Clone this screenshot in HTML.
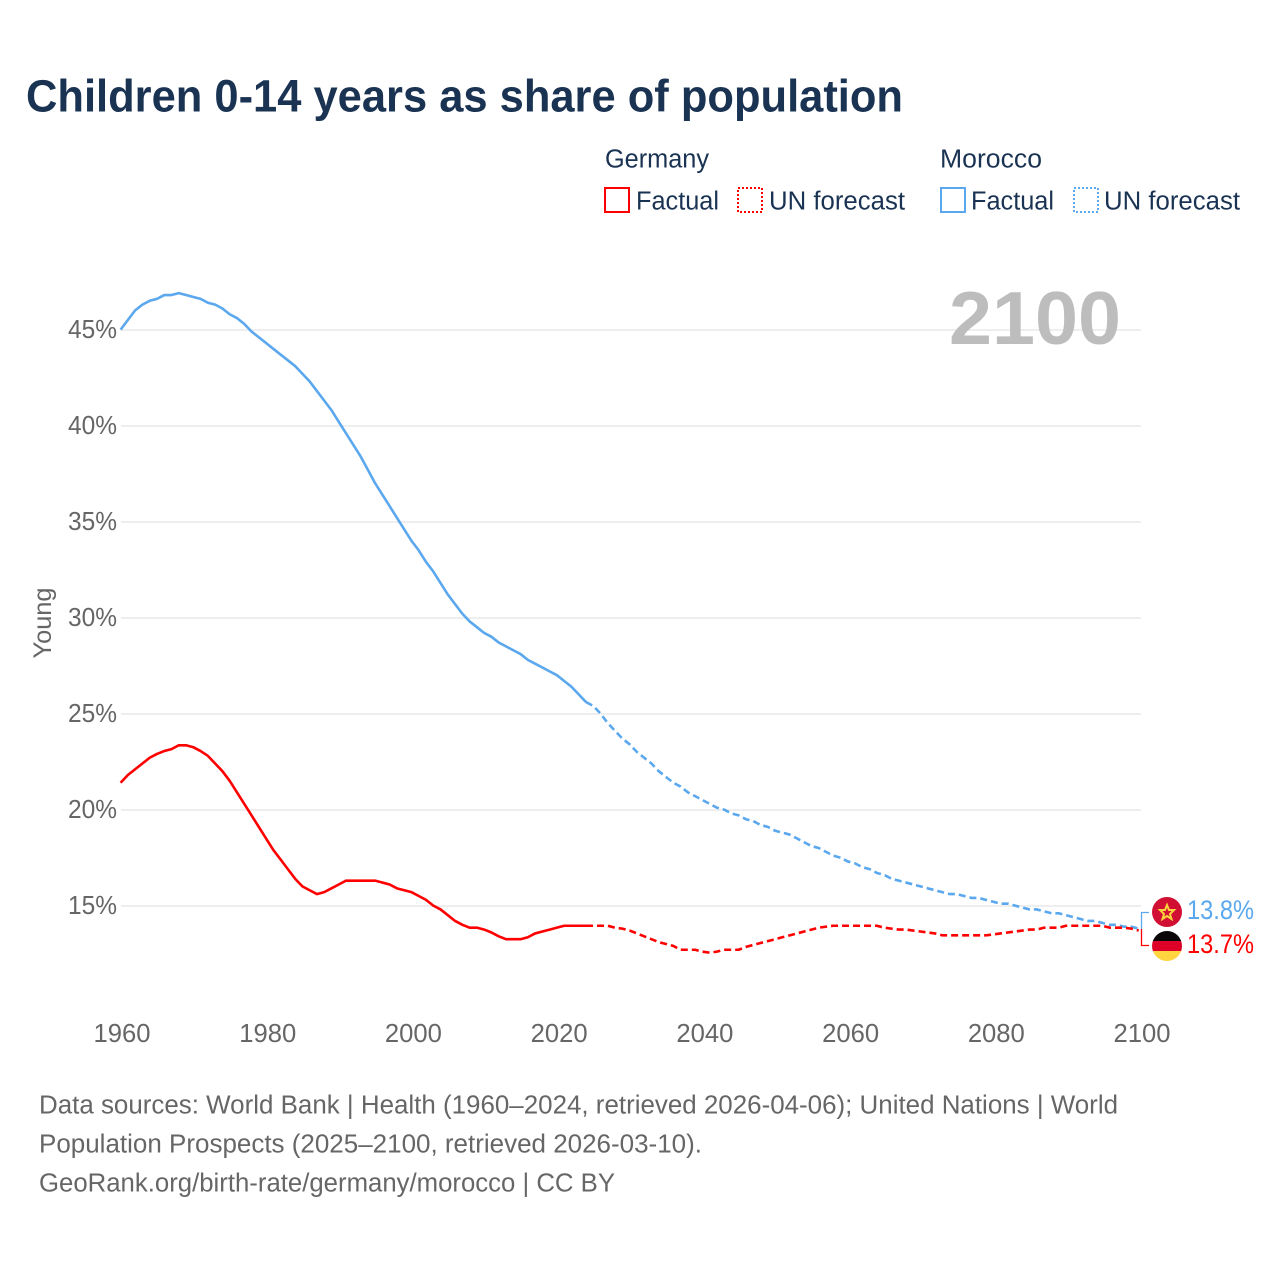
<!DOCTYPE html>
<html lang="en">
<head>
<meta charset="utf-8">
<title>Children 0-14 years as share of population</title>
<style>
html,body{margin:0;padding:0;background:#fff}
svg{display:block}
text{font-family:"Liberation Sans",sans-serif}
</style>
</head>
<body>
<svg id="chart" xmlns="http://www.w3.org/2000/svg" width="1280" height="1280" viewBox="0 0 1280 1280">
<rect width="1280" height="1280" fill="#fff"/>
<text x="26" y="111.5" font-size="45" font-weight="700" fill="#1a3353" textLength="877" lengthAdjust="spacingAndGlyphs">Children 0-14 years as share of population</text>

<g font-size="25.5" fill="#1a3353">
<text x="605" y="167.5" textLength="104" lengthAdjust="spacingAndGlyphs">Germany</text>
<text x="940" y="167.5" textLength="102" lengthAdjust="spacingAndGlyphs">Morocco</text>
<rect x="605" y="188" width="24" height="24" fill="none" stroke="#ff0000" stroke-width="2"/>
<text x="636" y="209.5" textLength="83" lengthAdjust="spacingAndGlyphs">Factual</text>
<rect x="738" y="188" width="24" height="24" fill="none" stroke="#ff0000" stroke-width="2" stroke-dasharray="2 2"/>
<text x="769" y="209.5" textLength="136" lengthAdjust="spacingAndGlyphs">UN forecast</text>
<rect x="941" y="188" width="24" height="24" fill="none" stroke="#5ba8ee" stroke-width="2"/>
<text x="971" y="209.5" textLength="83" lengthAdjust="spacingAndGlyphs">Factual</text>
<rect x="1074" y="188" width="24" height="24" fill="none" stroke="#5ba8ee" stroke-width="2" stroke-dasharray="2 2"/>
<text x="1104" y="209.5" textLength="136" lengthAdjust="spacingAndGlyphs">UN forecast</text>
</g>

<g id="grid"></g>
<text x="949" y="344" font-size="75" font-weight="700" fill="#bdbdbd" textLength="172" lengthAdjust="spacingAndGlyphs">2100</text>
<g id="yticks"></g>
<g id="xticks"></g>
<text transform="translate(51,623) rotate(-90)" text-anchor="middle" font-size="25" fill="#666" textLength="71" lengthAdjust="spacingAndGlyphs">Young</text>
<g id="series"></g>

<g id="end-markers">
<defs>
<clipPath id="clip-de"><circle cx="1167" cy="946" r="15"/></clipPath>
</defs>
<circle cx="1167" cy="912" r="15" fill="#d00f32"/>
<polygon points="1167,905 1169,910 1174,910 1170,914 1171.5,919 1167,916 1162.5,919 1164,914 1160,910 1165,910" fill="none" stroke="#fbd33c" stroke-width="2"/>
<g clip-path="url(#clip-de)">
<rect x="1152" y="931" width="30" height="10" fill="#0a0506"/>
<rect x="1152" y="941" width="30" height="10" fill="#dc0029"/>
<rect x="1152" y="951" width="30" height="10" fill="#ffd640"/>
</g>
<path d="M1141.5 929V912.5H1149" fill="none" stroke="#5ba8ee" stroke-width="1.3"/>
<path d="M1141.5 929V945.5H1149" fill="none" stroke="#ff0000" stroke-width="1.3"/>
<text id="label-ma" x="1187" y="919" font-size="26.5" fill="#5ba8ee" textLength="67" lengthAdjust="spacingAndGlyphs"></text>
<text id="label-de" x="1187" y="953" font-size="26.5" fill="#ff0000" textLength="67" lengthAdjust="spacingAndGlyphs"></text>
</g>

<g font-size="25.5" fill="#666">
<text x="39" y="1113.5" textLength="1079" lengthAdjust="spacingAndGlyphs">Data sources: World Bank | Health (1960–2024, retrieved 2026-04-06); United Nations | World</text>
<text x="39" y="1152.5" textLength="663" lengthAdjust="spacingAndGlyphs">Population Prospects (2025–2100, retrieved 2026-03-10).</text>
<text x="39" y="1191.5" textLength="576" lengthAdjust="spacingAndGlyphs">GeoRank.org/birth-rate/germany/morocco | CC BY</text>
</g>
</svg>
<script>
const firstYear = 1960;
const lastFactualYear = 2024;
const yTickValues = [15, 20, 25, 30, 35, 40, 45];
const xTickYears = [1960, 1980, 2000, 2020, 2040, 2060, 2080, 2100];
const moroccoValues = [
45.0,45.5,46.0,46.3,46.5,46.6,46.8,46.8,46.9,46.8,
46.7,46.6,46.4,46.3,46.1,45.8,45.6,45.3,44.9,44.6,
44.3,44.0,43.7,43.4,43.1,42.7,42.3,41.8,41.3,40.8,
40.2,39.6,39.0,38.4,37.7,37.0,36.4,35.8,35.2,34.6,
34.0,33.5,32.9,32.4,31.8,31.2,30.7,30.2,29.8,29.5,
29.2,29.0,28.7,28.5,28.3,28.1,27.8,27.6,27.4,27.2,
27.0,26.7,26.4,26.0,25.6,25.4,25.0,24.5,24.1,23.7,
23.4,23.0,22.7,22.4,22.0,21.7,21.4,21.2,20.9,20.7,
20.5,20.3,20.1,20.0,19.8,19.7,19.5,19.4,19.2,19.1,
18.9,18.8,18.7,18.5,18.3,18.1,18.0,17.8,17.6,17.5,
17.3,17.2,17.0,16.9,16.7,16.6,16.4,16.3,16.2,16.1,
16.0,15.9,15.8,15.7,15.6,15.6,15.5,15.4,15.4,15.3,
15.2,15.1,15.1,15.0,14.9,14.8,14.8,14.7,14.6,14.6,
14.5,14.4,14.3,14.2,14.2,14.1,14.0,14.0,13.9,13.9,
13.8];
const germanyValues = [
21.4,21.8,22.1,22.4,22.7,22.9,23.05,23.15,23.35,23.35,
23.25,23.05,22.8,22.4,22.0,21.5,20.9,20.3,19.7,19.1,
18.5,17.9,17.4,16.9,16.4,16.0,15.8,15.6,15.7,15.9,
16.1,16.3,16.3,16.3,16.3,16.3,16.2,16.1,15.9,15.8,
15.7,15.5,15.3,15.0,14.8,14.5,14.2,14.0,13.85,13.85,
13.75,13.6,13.4,13.25,13.25,13.25,13.35,13.55,13.65,13.75,
13.85,13.95,13.95,13.95,13.95,13.95,13.95,13.95,13.85,13.8,
13.7,13.55,13.4,13.25,13.1,13.0,12.9,12.7,12.7,12.7,
12.6,12.55,12.6,12.7,12.7,12.7,12.85,12.95,13.05,13.15,
13.25,13.35,13.45,13.55,13.65,13.75,13.85,13.9,13.95,13.95,
13.95,13.95,13.95,13.95,13.95,13.85,13.8,13.75,13.75,13.7,
13.65,13.6,13.55,13.45,13.45,13.45,13.45,13.45,13.45,13.45,
13.5,13.55,13.6,13.65,13.7,13.75,13.75,13.85,13.85,13.85,
13.95,13.95,13.95,13.95,13.95,13.95,13.85,13.85,13.85,13.8,
13.7];

const NS = 'http://www.w3.org/2000/svg';
function xScale(year) { return 120.6 + (year - 1960) * 7.272; }
function xTickScale(year) { return 122 + (year - 1960) * 7.286; }
function yScale(v) { return 905.6 - (v - 15) * 19.2; }
function gridY(v) { return 906 - (v - 15) * 19.2; }
function linePoints(values, fromYear, toYear) {
  const pts = [];
  for (let yr = fromYear; yr <= toYear; yr++) {
    const v = values[yr - firstYear];
    pts.push(xScale(yr).toFixed(2) + ',' + yScale(v).toFixed(2));
  }
  return pts.join(' ');
}

const gridG = document.getElementById('grid');
const yG = document.getElementById('yticks');
yTickValues.forEach(function (v) {
  const l = document.createElementNS(NS, 'line');
  
  
  l.setAttribute('x1', 121);
  l.setAttribute('x2', 1141);
  l.setAttribute('y1', gridY(v));
  l.setAttribute('y2', gridY(v));
  l.setAttribute('stroke', '#eeeeee');
  l.setAttribute('stroke-width', 2);
  gridG.appendChild(l);
  const t = document.createElementNS(NS, 'text');
  
  
  t.setAttribute('x', 68);
  t.setAttribute('y', gridY(v) + 8);
  t.setAttribute('font-size', 25.5);
  t.setAttribute('fill', '#666');
  t.setAttribute('textLength', 49);
  t.setAttribute('lengthAdjust', 'spacingAndGlyphs');
  t.textContent = v + '%';
  yG.appendChild(t);
});

const xG = document.getElementById('xticks');
xTickYears.forEach(function (yr) {
  const t = document.createElementNS(NS, 'text');
  
  
  t.setAttribute('x', xTickScale(yr) - 28.5);
  t.setAttribute('y', 1042);
  t.setAttribute('font-size', 25.5);
  t.setAttribute('fill', '#666');
  t.setAttribute('textLength', 57);
  t.setAttribute('lengthAdjust', 'spacingAndGlyphs');
  t.textContent = yr;
  xG.appendChild(t);
});

const seriesG = document.getElementById('series');
function addLine(name, values, color, fromYear, toYear, dashed) {
  const p = document.createElementNS(NS, 'polyline');
  
  
  p.setAttribute('points', linePoints(values, fromYear, toYear));
  p.setAttribute('fill', 'none');
  p.setAttribute('stroke', color);
  p.setAttribute('stroke-width', 2.6);
  p.setAttribute('stroke-linejoin', 'round');
  if (dashed) p.setAttribute('stroke-dasharray', '7 4');
  seriesG.appendChild(p);
}
const endYear = firstYear + moroccoValues.length - 1;
addLine('morocco-forecast-line', moroccoValues, '#5ba8ee', lastFactualYear, endYear, true);
addLine('morocco-factual-line', moroccoValues, '#5ba8ee', firstYear, lastFactualYear, false);
addLine('germany-forecast-line', germanyValues, '#ff0000', lastFactualYear, endYear, true);
addLine('germany-factual-line', germanyValues, '#ff0000', firstYear, lastFactualYear, false);

document.getElementById('label-ma').textContent = moroccoValues[moroccoValues.length - 1].toFixed(1) + '%';
document.getElementById('label-de').textContent = germanyValues[germanyValues.length - 1].toFixed(1) + '%';
</script>
</body>
</html>
